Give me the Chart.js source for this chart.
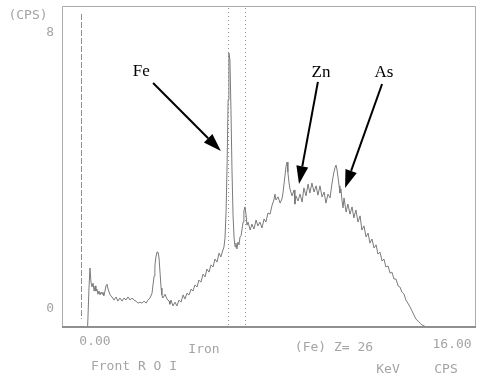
<!DOCTYPE html>
<html>
<head>
<meta charset="utf-8">
<script src="https://cdn.jsdelivr.net/npm/chart.js@4.4.1/dist/chart.umd.min.js"></script>
<style>
  html, body { margin: 0; padding: 0; background: #fff; }
  #wrap { width: 481px; height: 380px; }
</style>
</head>
<body>
<div id="wrap"><canvas id="spectrum" width="481" height="380"></canvas></div>
<script>
// X-ray fluorescence spectrum: energy (keV) against count rate (CPS)
const energyKeV = [
  0, 0.99, 1.04, 1.08, 1.12, 1.16, 1.20, 1.24, 1.28, 1.31,
  1.35, 1.39, 1.43, 1.47, 1.51, 1.55, 1.58, 1.62, 1.66, 1.70,
  1.74, 1.78, 1.86, 1.93, 2.01, 2.09, 2.16, 2.24, 2.32, 2.40,
  2.47, 2.55, 2.63, 2.71, 2.78, 2.86, 2.94, 3.01, 3.09, 3.17,
  3.25, 3.32, 3.40, 3.48, 3.52, 3.56, 3.59, 3.63, 3.67, 3.71,
  3.75, 3.79, 3.83, 3.86, 3.90, 3.98, 4.06, 4.14, 4.17, 4.21,
  4.29, 4.37, 4.44, 4.52, 4.60, 4.68, 4.75, 4.83, 4.91, 4.99,
  5.06, 5.14, 5.22, 5.29, 5.37, 5.45, 5.53, 5.60, 5.68, 5.76,
  5.84, 5.91, 5.99, 6.07, 6.14, 6.22, 6.26, 6.30, 6.34, 6.38,
  6.42, 6.45, 6.49, 6.53, 6.57, 6.61, 6.65, 6.69, 6.72, 6.76,
  6.80, 6.84, 6.88, 6.92, 6.96, 7.00, 7.03, 7.07, 7.11, 7.15,
  7.19, 7.27, 7.34, 7.42, 7.50, 7.57, 7.65, 7.73, 7.81, 7.88,
  7.96, 8.04, 8.12, 8.19, 8.23, 8.27, 8.35, 8.43, 8.50, 8.54,
  8.58, 8.62, 8.66, 8.70, 8.73, 8.77, 8.81, 8.89, 8.97, 9.00,
  9.04, 9.12, 9.20, 9.28, 9.35, 9.43, 9.51, 9.58, 9.66, 9.74,
  9.82, 9.89, 9.97, 10.05, 10.13, 10.20, 10.28, 10.36, 10.43, 10.47,
  10.51, 10.55, 10.59, 10.63, 10.67, 10.71, 10.74, 10.78, 10.82, 10.86,
  10.90, 10.98, 11.05, 11.13, 11.21, 11.28, 11.36, 11.44, 11.52, 11.59,
  11.67, 11.75, 11.83, 11.90, 11.98, 12.06, 12.14, 12.21, 12.29, 12.37,
  12.44, 12.52, 12.60, 12.68, 12.75, 12.83, 12.91, 12.99, 13.06, 13.14,
  13.22, 13.29, 13.37, 13.45, 13.53, 13.60, 13.68, 13.76, 13.84, 13.91,
  13.99, 14.10, 16.00
];

const countsCPS = [
  -0.52, -0.52, 0.55, 1.19, 0.78, 0.64, 0.75, 0.52, 0.67, 0.52,
  0.58, 0.43, 0.52, 0.41, 0.49, 0.43, 0.49, 0.38, 0.52, 0.67,
  0.72, 0.58, 0.41, 0.35, 0.26, 0.35, 0.23, 0.32, 0.23, 0.32,
  0.26, 0.35, 0.26, 0.32, 0.26, 0.23, 0.17, 0.20, 0.17, 0.23,
  0.17, 0.26, 0.32, 0.46, 0.72, 0.96, 1.25, 1.51, 1.65, 1.65,
  1.48, 1.04, 0.61, 0.41, 0.32, 0.43, 0.29, 0.23, 0.14, 0.26,
  0.09, 0.20, 0.09, 0.26, 0.20, 0.41, 0.29, 0.46, 0.41, 0.58,
  0.52, 0.70, 0.64, 0.84, 0.78, 1.01, 0.93, 1.16, 1.07, 1.28,
  1.22, 1.45, 1.36, 1.62, 1.51, 1.71, 1.80, 2.06, 2.81, 4.17,
  6.06, 7.42, 7.22, 5.77, 4.03, 2.72, 2.06, 1.80, 1.91, 1.74,
  1.94, 1.86, 2.09, 2.12, 2.32, 2.52, 2.84, 2.96, 2.75, 2.43,
  2.52, 2.29, 2.46, 2.32, 2.58, 2.41, 2.52, 2.35, 2.61, 2.52,
  2.78, 2.75, 3.01, 3.16, 3.33, 3.16, 3.25, 3.07, 3.19, 3.36,
  3.62, 3.88, 4.14, 4.26, 3.97, 3.68, 3.48, 3.28, 3.45, 3.04,
  3.28, 3.13, 3.33, 3.10, 3.51, 3.28, 3.62, 3.36, 3.65, 3.39,
  3.57, 3.30, 3.57, 3.25, 3.39, 3.07, 3.33, 3.22, 3.62, 3.80,
  3.97, 4.09, 4.17, 4.03, 3.80, 3.57, 3.36, 3.48, 3.16, 2.93,
  3.22, 2.81, 3.04, 2.75, 2.96, 2.64, 2.87, 2.52, 2.70, 2.29,
  2.41, 2.09, 2.20, 1.91, 2.03, 1.77, 1.86, 1.59, 1.65, 1.39,
  1.45, 1.22, 1.25, 1.04, 1.07, 0.87, 0.87, 0.67, 0.64, 0.49,
  0.43, 0.26, 0.17, 0.06, -0.06, -0.17, -0.29, -0.35, -0.41, -0.46,
  -0.49, -0.52, -0.52
];

const yTickValues = [0, 8];
const yTickLabels = ['0', '8'];

// Region-of-interest markers (keV): lower cut-off, Fe K-alpha, Fe K-beta
const cutoffKeV = [0.73];
const roiLinesKeV = [6.40, 7.06];

// Element labels with arrows, all in data units (keV, CPS)
const elementNames = ['Fe', 'Zn', 'As'];
const labelAt   = [[3.06, 6.87], [10.01, 6.84], [12.44, 6.84]];
const arrowFrom = [[3.52, 6.55], [9.89, 6.58], [12.37, 6.52]];
const arrowTo   = [[6.14, 4.58], [9.16, 3.62], [10.94, 3.51]];

const GRAY_TEXT = '#a4a4a4';
const MONO = '"DejaVu Sans Mono", "Liberation Mono", monospace';

const decorations = {
  id: 'decorations',
  beforeDatasetsDraw(chart) {
    const { ctx, chartArea: a, scales: { x } } = chart;
    ctx.save();
    // frame
    ctx.strokeStyle = '#ababab';
    ctx.lineWidth = 1;
    ctx.beginPath();
    ctx.moveTo(a.left + 0.5, a.bottom);
    ctx.lineTo(a.left + 0.5, a.top + 0.5);
    ctx.lineTo(a.right - 0.5, a.top + 0.5);
    ctx.lineTo(a.right - 0.5, a.bottom);
    ctx.stroke();
    // dashed cut-off line
    ctx.strokeStyle = '#909090';
    ctx.setLineDash([6, 2]);
    cutoffKeV.forEach(e => {
      const px = Math.round(x.getPixelForValue(e)) + 0.5;
      ctx.beginPath();
      ctx.moveTo(px, a.top + 8);
      ctx.lineTo(px, a.bottom - 8);
      ctx.stroke();
    });
    // dotted ROI lines
    ctx.setLineDash([1, 3]);
    roiLinesKeV.forEach(e => {
      const px = Math.round(x.getPixelForValue(e)) + 0.5;
      ctx.beginPath();
      ctx.moveTo(px, a.top + 2);
      ctx.lineTo(px, a.bottom);
      ctx.stroke();
    });
    ctx.restore();
  },
  afterDatasetsDraw(chart) {
    const { ctx, chartArea: a, scales: { x, y } } = chart;
    ctx.save();
    // bottom axis line
    ctx.strokeStyle = '#8f8f8f';
    ctx.lineWidth = 2;
    ctx.beginPath();
    ctx.moveTo(a.left, a.bottom);
    ctx.lineTo(a.right, a.bottom);
    ctx.stroke();

    // y tick labels
    ctx.fillStyle = GRAY_TEXT;
    ctx.font = '13px ' + MONO;
    ctx.textAlign = 'right';
    ctx.textBaseline = 'middle';
    yTickValues.forEach((v, i) => {
      ctx.fillText(yTickLabels[i], a.left - 8, y.getPixelForValue(v));
    });

    // instrument captions
    ctx.textAlign = 'center';
    ctx.fillText('(CPS)', 28, 16);
    ctx.fillText('0.00', 95, 342);
    ctx.fillText('Iron', 204, 350);
    ctx.fillText('Front R O I', 134, 367);
    ctx.fillText('(Fe) Z= 26', 334, 348);
    ctx.fillText('16.00', 452, 345);
    ctx.fillText('KeV', 388, 370);
    ctx.fillText('CPS', 446, 370);

    // element labels and arrows
    ctx.fillStyle = '#000';
    ctx.strokeStyle = '#000';
    ctx.font = '17px "Liberation Serif", "Times New Roman", serif';
    elementNames.forEach((name, i) => {
      ctx.fillText(name, x.getPixelForValue(labelAt[i][0]), y.getPixelForValue(labelAt[i][1]));
      const x0 = x.getPixelForValue(arrowFrom[i][0]), y0 = y.getPixelForValue(arrowFrom[i][1]);
      const x1 = x.getPixelForValue(arrowTo[i][0]),   y1 = y.getPixelForValue(arrowTo[i][1]);
      const ang = Math.atan2(y1 - y0, x1 - x0);
      const headLen = 18, headHalf = 6;
      const bx = x1 - headLen * Math.cos(ang), by = y1 - headLen * Math.sin(ang);
      ctx.lineWidth = 2;
      ctx.beginPath();
      ctx.moveTo(x0, y0);
      ctx.lineTo(bx, by);
      ctx.stroke();
      ctx.beginPath();
      ctx.moveTo(x1, y1);
      ctx.lineTo(bx + headHalf * Math.sin(ang), by - headHalf * Math.cos(ang));
      ctx.lineTo(bx - headHalf * Math.sin(ang), by + headHalf * Math.cos(ang));
      ctx.closePath();
      ctx.fill();
    });
    ctx.restore();
  }
};

new Chart(document.getElementById('spectrum'), {
  type: 'line',
  data: {
    datasets: [{
      data: energyKeV.map((e, i) => ({ x: e, y: countsCPS[i] })),
      borderColor: '#7a7a7a',
      borderWidth: 1,
      pointRadius: 0,
      tension: 0,
      fill: false
    }]
  },
  options: {
    responsive: false,
    animation: false,
    devicePixelRatio: 1,
    layout: { padding: { left: 62, top: 6, right: 5, bottom: 53 } },
    plugins: { legend: { display: false }, tooltip: { enabled: false } },
    scales: {
      x: { type: 'linear', min: 0, max: 16, display: false },
      y: { type: 'linear', min: -0.52, max: 8.78, display: false }
    }
  },
  plugins: [decorations]
});
</script>
</body>
</html>
